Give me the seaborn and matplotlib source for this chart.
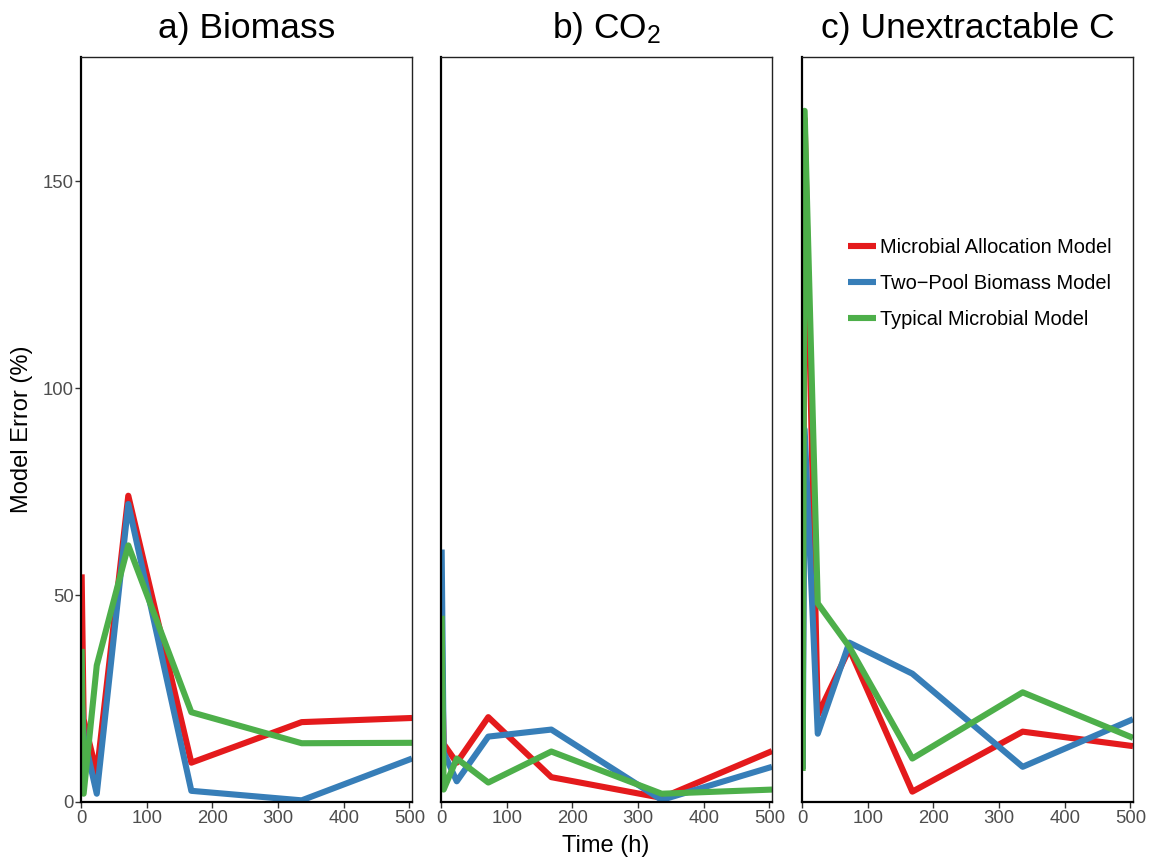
import matplotlib
matplotlib.use("Agg")
import matplotlib.pyplot as plt
import seaborn as sns
import pandas as pd

times = [1, 4, 24, 72, 168, 336, 504]
models = ["Microbial Allocation Model", "Two\u2212Pool Biomass Model", "Typical Microbial Model"]
colors = ["#E41A1C", "#377EB8", "#4DAF4A"]

biomass_mam = [55, 20, 7, 74, 9.5, 19.3, 20.3]
biomass_tpb = [25, 16, 2, 72, 2.7, 0.4, 10.5]
biomass_tmm = [37, 2, 33, 62, 21.7, 14.2, 14.3]

co2_mam = [37, 14, 9.5, 20.5, 6, 1, 12.3]
co2_tpb = [61, 12, 5, 15.8, 17.5, 0.5, 8.5]
co2_tmm = [45, 3, 10.5, 4.7, 12.2, 2, 3]

unext_mam = [8, 165, 21, 37, 2.5, 17, 13.5]
unext_tpb = [8, 90, 16.5, 38.5, 31, 8.5, 20]
unext_tmm = [7.5, 167, 48, 37.5, 10.5, 26.5, 15.5]

panel_titles = ["a) Biomass", "b) CO$_2$", "c) Unextractable C"]
panel_data = [
    [biomass_mam, biomass_tpb, biomass_tmm],
    [co2_mam, co2_tpb, co2_tmm],
    [unext_mam, unext_tpb, unext_tmm],
]
x_ticks = [0, 100, 200, 300, 400, 500]
y_ticks = [0, 50, 100, 150]

sns.set_theme(style="white")
plt.rcParams['font.family'] = ['Liberation Sans', 'DejaVu Sans']
plt.rcParams['mathtext.fontset'] = 'custom'
plt.rcParams['mathtext.rm'] = 'Liberation Sans'
plt.rcParams['mathtext.it'] = 'Liberation Sans'

fig = plt.figure(figsize=(11.56, 8.61), dpi=100)
W, H = 1156, 861
lefts = [81, 441, 802]
pw = 331
top, bottom = 57, 802

axes = []
for i in range(3):
    ax = fig.add_axes([lefts[i] / W, 1 - bottom / H, pw / W, (bottom - top) / H])
    axes.append(ax)
    rows = []
    for m, vals in zip(models, panel_data[i]):
        for t, v in zip(times, vals):
            rows.append({"time": t, "err": v, "model": m})
    df = pd.DataFrame(rows)
    sns.lineplot(data=df, x="time", y="err", hue="model", hue_order=models,
                 palette=colors, linewidth=4.4, ax=ax, legend=(i == 2),
                 solid_joinstyle="round", solid_capstyle="butt")
    ax.set_xlim(0, 504)
    ax.set_ylim(0, 180)
    ax.set_xticks(x_ticks)
    ax.set_xticklabels([str(t) for t in x_ticks])
    ax.set_title(panel_titles[i], fontsize=25.5, pad=14, color="black")
    ax.set_xlabel("")
    ax.set_ylabel("")
    ax.set_facecolor("white")
    for s in ["top", "right"]:
        ax.spines[s].set_color("#222222")
        ax.spines[s].set_linewidth(1.0)
    for s in ["left", "bottom"]:
        ax.spines[s].set_color("black")
        ax.spines[s].set_linewidth(1.6)
    ax.tick_params(axis="x", direction="out", length=4, width=1.0, color="#333333",
                   labelsize=13.3, labelcolor="#4D4D4D", pad=2, bottom=True)
    if i == 0:
        ax.set_yticks(y_ticks)
        ax.set_yticklabels([str(v) for v in y_ticks])
        ax.tick_params(axis="y", direction="out", length=4, width=1.0, color="#333333",
                       labelsize=13.3, labelcolor="#4D4D4D", pad=1, left=True)
    else:
        ax.set_yticks(y_ticks)
        ax.set_yticklabels([])
        ax.tick_params(axis="y", length=0, left=False)
    ax.grid(False)

leg = axes[2].legend(loc="upper left", bbox_to_anchor=(0.115, 0.768), frameon=False,
                     fontsize=14.4, handlelength=1.4, handletextpad=0.2,
                     labelspacing=0.85, borderaxespad=0)
for line in leg.get_lines():
    line.set_linewidth(4.4)
    line.set_solid_capstyle("butt")
for txt in leg.get_texts():
    txt.set_color("black")

fig.text(22 / W, 1 - 429 / H, "Model Error (%)", rotation=90, ha="center", va="center",
         fontsize=17, color="black")
fig.text(606 / W, 1 - 846 / H, "Time (h)", ha="center", va="center",
         fontsize=17, color="black")

fig.savefig("out.png", dpi=100, facecolor="white")
